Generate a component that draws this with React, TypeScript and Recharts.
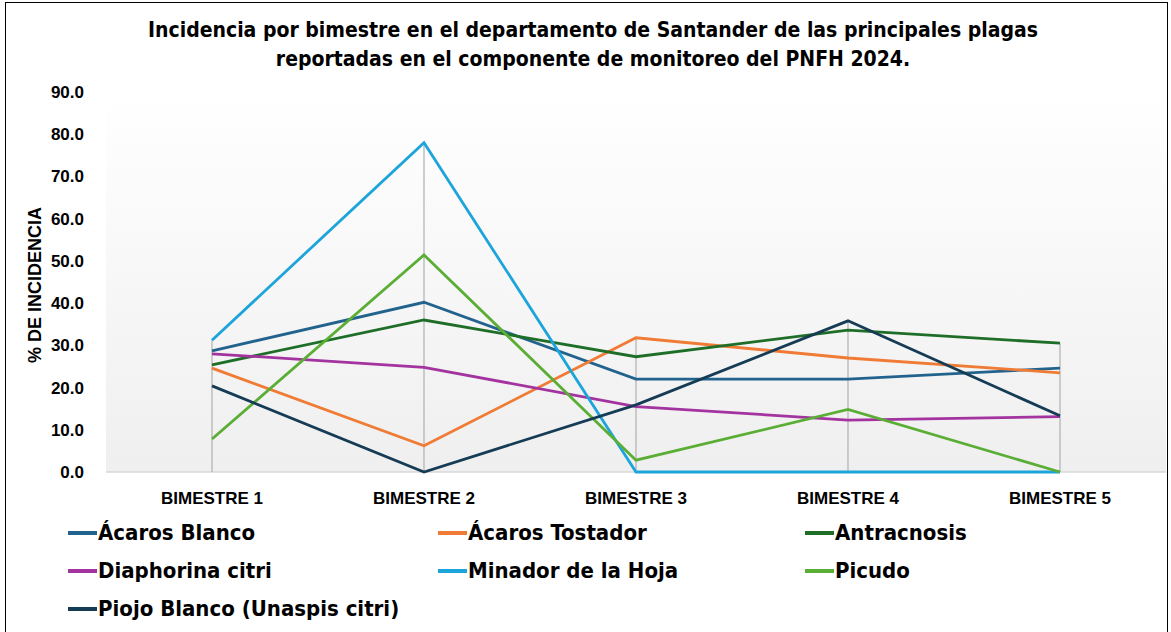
import React from "react";
import { LineChart, Line, XAxis, YAxis, CartesianGrid, ReferenceLine } from "recharts";

const categories = ["BIMESTRE 1", "BIMESTRE 2", "BIMESTRE 3", "BIMESTRE 4", "BIMESTRE 5"];

const acarosBlanco = [28.7, 40.2, 22.0, 22.0, 24.6];
const acarosTostador = [24.6, 6.2, 31.8, 27.0, 23.5];
const antracnosis = [25.4, 36.0, 27.3, 33.6, 30.5];
const diaphorina = [28.0, 24.8, 15.5, 12.3, 13.1];
const minador = [31.2, 78.0, 0.0, 0.0, 0.0];
const picudo = [7.8, 51.4, 2.8, 14.8, 0.0];
const piojoBlanco = [20.4, 0.0, 15.9, 35.8, 13.3];

const yTicks = [0, 10, 20, 30, 40, 50, 60, 70, 80, 90];

const series = [
  { key: "acarosBlanco", name: "Ácaros Blanco", values: acarosBlanco, color: "#22638E" },
  { key: "acarosTostador", name: "Ácaros Tostador", values: acarosTostador, color: "#EF7B35" },
  { key: "antracnosis", name: "Antracnosis", values: antracnosis, color: "#1E6E28" },
  { key: "diaphorina", name: "Diaphorina citri", values: diaphorina, color: "#A3339F" },
  { key: "minador", name: "Minador de la Hoja", values: minador, color: "#1DA5DB" },
  { key: "picudo", name: "Picudo", values: picudo, color: "#5BAE35" },
  { key: "piojoBlanco", name: "Piojo Blanco (Unaspis citri)", values: piojoBlanco, color: "#163C55" },
];

const data = categories.map((cat, i) => {
  const row: Record<string, string | number> = { cat };
  series.forEach((s) => (row[s.key] = s.values[i]));
  return row;
});

// top of each drop line = highest value in that bimestre
const dropTops = categories.map((_, i) => Math.max(...series.map((s) => s.values[i])));

const narrow = '"Liberation Sans Narrow", "DejaVu Sans Condensed", "Roboto Condensed", Arial, sans-serif';
const bold = '"Liberation Sans", Arial, sans-serif';

export default function App() {
  return (
    <div style={{ position: "absolute", left: 0, top: 0, width: 1171, height: 632, background: "#fff", overflow: "hidden" }}>
      <div style={{ position: "absolute", left: 5, top: 2, width: 1161, height: 640, border: "1.5px solid #000" }} />
      <div
        style={{
          position: "absolute",
          left: 0,
          top: 16,
          width: 1186,
          textAlign: "center",
          fontFamily: narrow,
          fontWeight: 700,
          fontSize: 21,
          lineHeight: "29px",
          color: "#000",
        }}
      >
        Incidencia por bimestre en el departamento de Santander de las principales plagas
        <br />
        reportadas en el componente de monitoreo del PNFH 2024.
      </div>
      <div
        style={{
          position: "absolute",
          left: 35,
          top: 285,
          transform: "translate(-50%, -50%) rotate(-90deg)",
          whiteSpace: "nowrap",
          fontFamily: bold,
          fontWeight: 700,
          fontSize: 18,
          color: "#000",
        }}
      >
        % DE INCIDENCIA
      </div>
      <div style={{ position: "absolute", left: 0, top: 0 }}>
        <LineChart width={1171} height={632} data={data} margin={{ top: 92, right: 5, bottom: 130, left: 36 }}>
          <defs>
            <linearGradient id="bg" x1="0" y1="0" x2="0" y2="1">
              <stop offset="0%" stopColor="#ffffff" />
              <stop offset="100%" stopColor="#efefef" />
            </linearGradient>
          </defs>
          <CartesianGrid horizontal={false} vertical={false} fill="url(#bg)" stroke="none" />
          <XAxis
            dataKey="cat"
            height={30}
            padding={{ left: 106, right: 106 }}
            axisLine={false}
            tickLine={false}
            tick={{ fontFamily: bold, fontWeight: 700, fontSize: 17, fill: "#000" }}
            tickMargin={14}
            interval={0}
          />
          <YAxis
            width={70}
            domain={[0, 90]}
            ticks={yTicks}
            axisLine={false}
            tickLine={false}
            tickFormatter={(v: number) => v.toFixed(1)}
            tick={{ fontFamily: bold, fontWeight: 700, fontSize: 17, fill: "#000" }}
            tickMargin={16}
          />
          <ReferenceLine y={0} stroke="#d9d9d9" strokeWidth={1.5} />
          {categories.map((c, i) => (
            <ReferenceLine
              key={c}
              segment={[
                { x: c, y: dropTops[i] },
                { x: c, y: 0 },
              ]}
              stroke="#b0b0b0"
              strokeWidth={1.2}
            />
          ))}
          {series.map((s) => (
            <Line
              key={s.key}
              type="linear"
              dataKey={s.key}
              name={s.name}
              stroke={s.color}
              strokeWidth={2.8}
              dot={false}
              activeDot={false}
              isAnimationActive={false}
            />
          ))}
        </LineChart>
      </div>
      {series.map((s, i) => {
        const col = i % 3;
        const row = Math.floor(i / 3);
        const lefts = [68, 438, 805];
        return (
          <div
            key={s.key}
            style={{
              position: "absolute",
              left: lefts[col],
              top: 520 + row * 38,
              display: "flex",
              alignItems: "center",
              fontFamily: narrow,
              fontWeight: 700,
              fontSize: 22,
              color: "#000",
              whiteSpace: "nowrap",
            }}
          >
            <span style={{ display: "inline-block", width: 29, height: 4, background: s.color, marginRight: 1 }} />
            {s.name}
          </div>
        );
      })}
    </div>
  );
}
